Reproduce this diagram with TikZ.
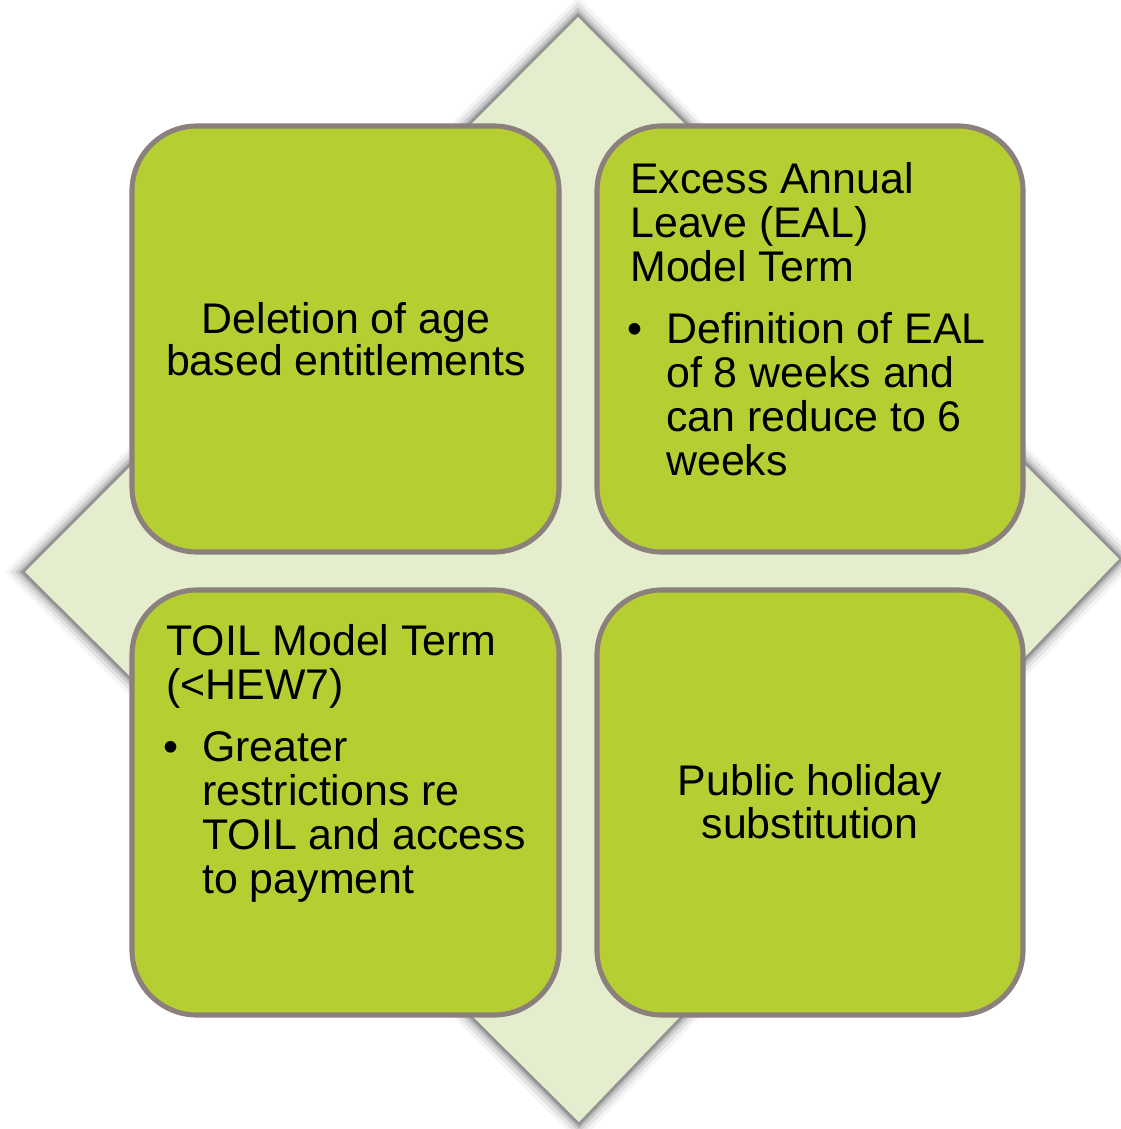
\documentclass[tikz,border=0pt]{standalone}
\usepackage{fontspec}
\setmainfont{Liberation Sans}
\definecolor{leafgreen}{RGB}{181,207,51}
\definecolor{palegreen}{RGB}{228,237,206}
\definecolor{rimgray}{RGB}{139,128,124}
\definecolor{shadegray}{RGB}{110,110,110}

\begin{document}
\begin{tikzpicture}[x=0.02cm,y=-0.02cm,
  tile/.style={fill=leafgreen,draw=rimgray,line width=2.9pt,rounded corners=1.3cm},
  txt/.style={inner sep=0pt,font=\fontsize{24.4}{25}\selectfont},
  ln/.style={txt,anchor=base west},
  cln/.style={txt,anchor=base}]
\useasboundingbox (0,0) rectangle (1121,1129);

% diamond behind the tiles, with a soft grey rim
\foreach \w/\o in {16/0.08,12/0.13,8/0.2,5/0.3,3/0.45}
  \draw[shadegray,opacity=\o,line width=\w pt,line join=miter]
    (578,17) -- (1119,559) -- (579,1122) -- (25,572) -- cycle;
\fill[palegreen] (578,17) -- (1119,559) -- (579,1122) -- (25,572) -- cycle;

% the four tiles
\draw[tile] (132,126) rectangle (559,552);
\draw[tile] (597,126) rectangle (1023,552);
\draw[tile] (132,590) rectangle (559,1015);
\draw[tile] (597,590) rectangle (1023,1015);

% top left
\node[cln] (agea) at (346,333) {Deletion of age};
\node[cln] (ageb) at (346,375) {based entitlements};

% top right
\node[ln] (eala) at (630,193) {Excess Annual};
\node[ln] (ealb) at (630,237) {Leave (EAL)};
\node[ln] (ealc) at (630,281) {Model Term};
\node[ln] (ealdot) at (627,343) {\textbullet};
\node[ln] (eald) at (666,343) {Definition of EAL};
\node[ln] (eale) at (666,387) {of 8 weeks and};
\node[ln] (ealf) at (666,431) {can reduce to 6};
\node[ln] (ealg) at (666,475) {weeks};

% bottom left
\node[ln] (toila) at (166,655) {TOIL Model Term};
\node[ln] (toilb) at (166,699) {(<HEW7)};
\node[ln] (toildot) at (163,761) {\textbullet};
\node[ln] (toilc) at (202,761) {Greater};
\node[ln] (toild) at (202,805) {restrictions re};
\node[ln] (toile) at (202,849) {TOIL and access};
\node[ln] (toilf) at (202,893) {to payment};

% bottom right
\node[cln] (puba) at (810,795) {Public holiday};
\node[cln] (pubb) at (810,838) {substitution};
\end{tikzpicture}
\end{document}
